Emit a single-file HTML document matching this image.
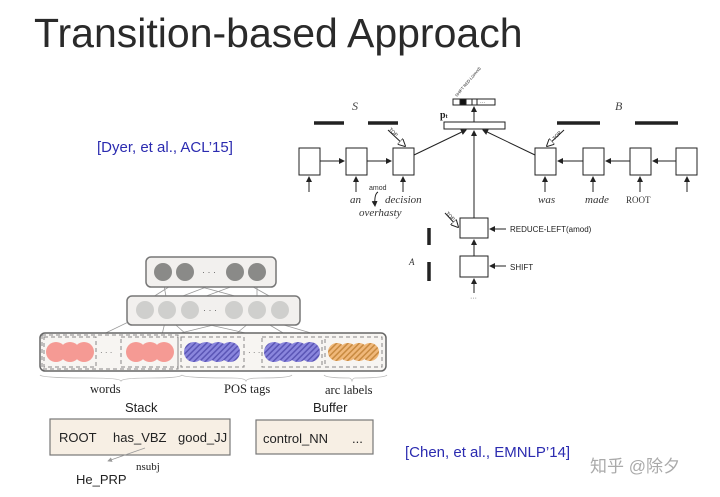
<!DOCTYPE html>
<html><head><meta charset="utf-8"><style>
body{margin:0;background:#fff;width:720px;height:497px;overflow:hidden}
svg{display:block}
</style></head><body>
<svg width="720" height="497" viewBox="0 0 720 497" xmlns="http://www.w3.org/2000/svg" font-family="Liberation Sans, sans-serif">
<defs>
<marker id="a" markerWidth="6" markerHeight="6" refX="5" refY="3" orient="auto"><path d="M0,0L6,3L0,6z" fill="#222"/></marker>
<marker id="g" markerWidth="6" markerHeight="6" refX="5" refY="3" orient="auto"><path d="M0,0L6,3L0,6z" fill="#999"/></marker>
<marker id="h" markerWidth="8" markerHeight="8" refX="7" refY="4" orient="auto"><path d="M0,0L8,4L0,8z" fill="#fff" stroke="#222" stroke-width="1"/></marker>
<pattern id="pb" width="4" height="4" patternUnits="userSpaceOnUse" patternTransform="rotate(45)"><rect width="4" height="4" fill="#8a86dd"/><rect width="1.5" height="4" fill="#5a55b5"/></pattern>
<pattern id="po" width="4" height="4" patternUnits="userSpaceOnUse" patternTransform="rotate(45)"><rect width="4" height="4" fill="#f0b87a"/><rect width="1.5" height="4" fill="#c88a40"/></pattern>
</defs>
<text x="34" y="47" font-size="41" fill="#2a2a2a" font-weight="300">Transition-based Approach</text>
<text x="97" y="152" font-size="15" fill="#2b2bb0">[Dyer, et al., ACL’15]</text>
<text x="405" y="457" font-size="15" fill="#2b2bb0">[Chen, et al., EMNLP’14]</text>
<text x="590" y="472" font-size="17" fill="#aaa" font-family="Liberation Sans, Noto Sans CJK SC, sans-serif">知乎 @除夕</text>

<g stroke="#222" fill="none" stroke-width="1">
<text x="352" y="110" font-size="12" font-family="Liberation Serif, serif" font-style="italic" fill="#444" stroke="none">S</text>
<text x="615" y="110" font-size="12" font-family="Liberation Serif, serif" font-style="italic" fill="#444" stroke="none">B</text>
<g stroke-width="3.5"><line x1="314" y1="123" x2="344" y2="123"/><line x1="368" y1="123" x2="398" y2="123"/><line x1="557" y1="123" x2="600" y2="123"/><line x1="635" y1="123" x2="678" y2="123"/><line x1="429" y1="228" x2="429" y2="245"/><line x1="429" y1="262" x2="429" y2="281"/></g>
<rect x="444" y="122" width="61" height="7"/>
<text x="440" y="118" font-size="10" font-family="Liberation Serif, serif" font-weight="bold" fill="#222" stroke="none">p<tspan font-size="6">t</tspan></text>
<rect x="453" y="99" width="42" height="6"/>
<rect x="460" y="99" width="6" height="6" fill="#111"/>
<line x1="466" y1="99" x2="466" y2="105"/><line x1="472" y1="99" x2="472" y2="105"/><line x1="477" y1="99" x2="477" y2="105"/>
<text x="480" y="104" font-size="5" fill="#222" stroke="none">···</text>
<text x="457" y="97" font-size="4" fill="#222" stroke="none" transform="rotate(-50 457 97)">SHIFT RED-L(amod)</text>
<line x1="474" y1="122" x2="474" y2="107" marker-end="url(#a)"/>
<rect x="299" y="148" width="21" height="27"/><rect x="346" y="148" width="21" height="27"/><rect x="393" y="148" width="21" height="27"/>
<rect x="535" y="148" width="21" height="27"/><rect x="583" y="148" width="21" height="27"/><rect x="630" y="148" width="21" height="27"/><rect x="676" y="148" width="21" height="27"/>
<line x1="320" y1="161" x2="344" y2="161" marker-end="url(#a)"/><line x1="367" y1="161" x2="391" y2="161" marker-end="url(#a)"/>
<line x1="583" y1="161" x2="558" y2="161" marker-end="url(#a)"/><line x1="630" y1="161" x2="606" y2="161" marker-end="url(#a)"/><line x1="676" y1="161" x2="653" y2="161" marker-end="url(#a)"/>
<line x1="414" y1="155" x2="466" y2="130" marker-end="url(#a)"/>
<line x1="535" y1="155" x2="483" y2="130" marker-end="url(#a)"/>
<g marker-end="url(#a)"><line x1="309" y1="192" x2="309" y2="177"/><line x1="356" y1="192" x2="356" y2="177"/><line x1="403" y1="192" x2="403" y2="177"/><line x1="545" y1="192" x2="545" y2="177"/><line x1="593" y1="192" x2="593" y2="177"/><line x1="640" y1="192" x2="640" y2="177"/><line x1="687" y1="192" x2="687" y2="177"/></g>
<line x1="388" y1="130" x2="405" y2="146" marker-end="url(#h)"/>
<line x1="564" y1="130" x2="547" y2="146" marker-end="url(#h)"/>
<line x1="445" y1="213" x2="458" y2="227" marker-end="url(#h)"/>
<text x="386" y="132" font-size="5" fill="#222" stroke="none" transform="rotate(45 390 134)">TOP</text>
<text x="552" y="138" font-size="5" fill="#222" stroke="none" transform="rotate(-45 556 136)">TOP</text>
<text x="443" y="216" font-size="5" fill="#222" stroke="none" transform="rotate(45 447 218)">TOP</text>
<rect x="460" y="218" width="28" height="20"/><rect x="460" y="256" width="28" height="21"/>
<line x1="474" y1="218" x2="474" y2="131" marker-end="url(#a)"/>
<line x1="474" y1="256" x2="474" y2="240" marker-end="url(#a)"/>
<line x1="474" y1="293" x2="474" y2="279" marker-end="url(#a)"/>
<line x1="506" y1="229" x2="490" y2="229" marker-end="url(#a)"/>
<line x1="506" y1="266" x2="490" y2="266" marker-end="url(#a)"/>
<path d="M378,192 q-4,2 -3,14" marker-end="url(#a)"/>
</g>
<g font-family="Liberation Serif, serif" font-style="italic" font-size="11" fill="#333">
<text x="350" y="203">an</text><text x="385" y="203">decision</text><text x="359" y="216">overhasty</text>
<text x="538" y="203">was</text><text x="585" y="203">made</text>
<text x="626" y="203" font-style="normal" font-size="9">ROOT</text>
<text x="409" y="265" font-size="9">A</text>
</g>
<text x="369" y="190" font-size="7" fill="#333">amod</text>
<text x="510" y="232" font-size="8" fill="#222">REDUCE-LEFT(amod)</text>
<text x="510" y="270" font-size="8" fill="#222">SHIFT</text>
<text x="470" y="300" font-size="7" fill="#555">···</text>

<g stroke="#999" stroke-width="0.8" marker-end="url(#g)" fill="none">
<line x1="85" y1="343" x2="143" y2="315"/><line x1="160" y1="343" x2="166" y2="318"/><line x1="196" y1="343" x2="168" y2="318"/><line x1="225" y1="343" x2="255" y2="318"/><line x1="300" y1="343" x2="258" y2="318"/><line x1="345" y1="343" x2="260" y2="318"/><line x1="140" y1="343" x2="250" y2="316"/><line x1="290" y1="343" x2="170" y2="316"/>
<line x1="145" y1="302" x2="183" y2="278"/><line x1="167" y1="302" x2="163" y2="280"/><line x1="167" y1="302" x2="230" y2="278"/><line x1="257" y1="302" x2="257" y2="280"/><line x1="257" y1="302" x2="168" y2="278"/><line x1="280" y1="302" x2="237" y2="278"/><line x1="190" y1="302" x2="255" y2="278"/>
</g>
<rect x="146" y="257" width="130" height="30" rx="5" fill="#f2f0ee" stroke="#777" stroke-width="1.5"/>
<g fill="#8a8a88"><circle cx="163" cy="272" r="9"/><circle cx="185" cy="272" r="9"/><circle cx="235" cy="272" r="9"/><circle cx="257" cy="272" r="9"/></g>
<text x="202" y="275" font-size="9" fill="#666">· · ·</text>
<rect x="127" y="296" width="173" height="29" rx="5" fill="#f2f0ee" stroke="#777" stroke-width="1.5"/>
<g fill="#cfcfcd"><circle cx="145" cy="310" r="9"/><circle cx="167" cy="310" r="9"/><circle cx="190" cy="310" r="9"/><circle cx="234" cy="310" r="9"/><circle cx="257" cy="310" r="9"/><circle cx="280" cy="310" r="9"/></g>
<text x="203" y="313" font-size="9" fill="#666">· · ·</text>
<rect x="40" y="333" width="346" height="38" rx="5" fill="#f7f5f2" stroke="#666" stroke-width="1.5"/>
<g fill="none" stroke="#888" stroke-dasharray="4,3"><rect x="44" y="337" width="52" height="30"/><rect x="121" y="337" width="57" height="30"/><rect x="181" y="337" width="63" height="30"/><rect x="262" y="337" width="60" height="30"/><rect x="325" y="337" width="57" height="30"/><rect x="42" y="335" width="136" height="34"/></g>
<g fill="#f59a94"><circle cx="56" cy="352" r="10"/><circle cx="70" cy="352" r="10"/><circle cx="84" cy="352" r="10"/><circle cx="136" cy="352" r="10"/><circle cx="150" cy="352" r="10"/><circle cx="164" cy="352" r="10"/></g>
<g fill="url(#pb)"><circle cx="194" cy="352" r="10"/><circle cx="206" cy="352" r="10"/><circle cx="218" cy="352" r="10"/><circle cx="230" cy="352" r="10"/><circle cx="274" cy="352" r="10"/><circle cx="286" cy="352" r="10"/><circle cx="298" cy="352" r="10"/><circle cx="310" cy="352" r="10"/></g>
<g fill="url(#po)"><circle cx="337" cy="352" r="9"/><circle cx="348" cy="352" r="9"/><circle cx="359" cy="352" r="9"/><circle cx="370" cy="352" r="9"/></g>
<text x="100" y="355" font-size="8" fill="#666">· · ·</text><text x="248" y="355" font-size="8" fill="#666">· · ·</text>
<path d="M40,375 q2,3 50,3 q30,0 31,3 q1,-3 31,-3 q28,0 30,-3 M182,375 q2,3 50,3 q13,0 14,3 q1,-3 14,-3 q30,0 32,-3 M324,375 q2,3 25,3 q2,0 3,3 q1,-3 3,-3 q30,0 32,-3" fill="none" stroke="#bbb" stroke-width="0.8"/>
<g font-family="Liberation Serif, serif" font-size="12.5" fill="#222"><text x="90" y="393">words</text><text x="224" y="393">POS tags</text><text x="325" y="394">arc labels</text><text x="136" y="470" font-size="11">nsubj</text></g>
<text x="125" y="412" font-size="13" fill="#222">Stack</text><text x="313" y="412" font-size="13" fill="#222">Buffer</text>
<rect x="50" y="419" width="180" height="36" fill="#f7efe4" stroke="#777" stroke-width="1.2"/>
<rect x="256" y="420" width="117" height="34" fill="#f7efe4" stroke="#777" stroke-width="1.2"/>
<g font-size="13" fill="#222"><text x="59" y="442">ROOT</text><text x="113" y="442">has_VBZ</text><text x="178" y="442">good_JJ</text><text x="263" y="443">control_NN</text><text x="352" y="443">...</text><text x="76" y="484">He_PRP</text></g>
<line x1="145" y1="448" x2="108" y2="461" stroke="#999" stroke-width="0.8" marker-end="url(#g)"/>
</svg>
</body></html>
